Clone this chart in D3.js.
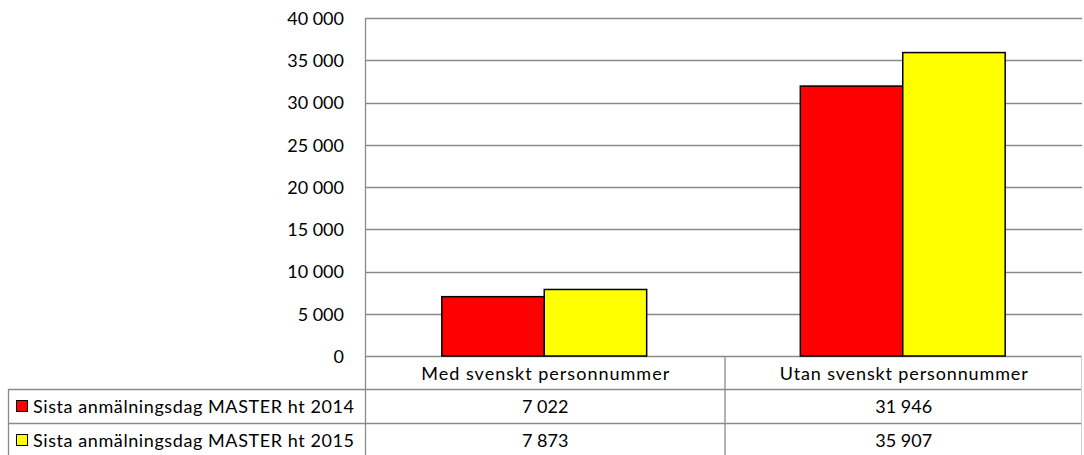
<!DOCTYPE html>
<html><head><meta charset="utf-8">
<script src="https://cdn.jsdelivr.net/npm/d3@7"></script>
<style>body{margin:0;background:#fff}svg text{font-family:Lato,"Open Sans",sans-serif;fill:#000}</style>
</head><body><svg id="c" width="1084" height="455"></svg>
<script>
const categories = ["Med svenskt personnummer", "Utan svenskt personnummer"];
const seriesNames = ["Sista anmälningsdag MASTER ht 2014", "Sista anmälningsdag MASTER ht 2015"];
const values2014 = [7022, 31946];
const values2015 = [7873, 35907];
const seriesColors = ["#ff0000", "#ffff00"];
const yTicks = [0, 5000, 10000, 15000, 20000, 25000, 30000, 35000, 40000];

const series = [values2014, values2015];
const fmt = v => d3.format(",")(v).replace(/,/g, " ");
const svg = d3.select("#c");
const L = 365, R = 1082, T = 18, B = 356;
const tableLeft = 8, headH = 33, rowH = 34;
const grid = "#8a8a8a";
const FS = "18px";

const x = d3.scaleBand().domain(categories).range([L, R]).paddingInner(0).paddingOuter(0);
const y = d3.scaleLinear().domain([0, 40000]).range([B, T]);
const xs = d3.scaleBand().domain([0, 1]).range([0, x.bandwidth()]).paddingInner(0).paddingOuter(0.75);

// gridlines
svg.append("g").selectAll("line").data(yTicks).join("line")
  .attr("x1", L).attr("x2", R).attr("y1", d => Math.round(y(d)) + 0.5).attr("y2", d => Math.round(y(d)) + 0.5)
  .attr("stroke", grid).attr("stroke-width", 1.3);

// y axis labels
const yAxis = d3.axisLeft(y).tickValues(yTicks).tickFormat(fmt).tickSize(0).tickPadding(21);
const ga = svg.append("g").attr("transform", `translate(${L},0)`).call(yAxis);
ga.select(".domain").remove();
ga.selectAll("text").style("font-size", FS).attr("font-family", null).attr("dy", "0.35em");

// bars
categories.forEach((c, ci) => {
  series.forEach((s, si) => {
    svg.append("rect")
      .attr("x", x(c) + xs(si)).attr("width", xs.bandwidth())
      .attr("y", y(s[ci])).attr("height", B - y(s[ci]))
      .attr("fill", seriesColors[si]).attr("stroke", "#000").attr("stroke-width", 1.5);
  });
});

// table
const rows = [B, B + headH, B + headH + rowH, B + headH + 2 * rowH];
rows.slice(1, 3).forEach(ry => svg.append("line").attr("x1", tableLeft).attr("x2", R).attr("y1", ry + 0.5).attr("y2", ry + 0.5).attr("stroke", grid).attr("stroke-width", 1.3));
// verticals
svg.append("line").attr("x1", L + 0.5).attr("x2", L + 0.5).attr("y1", T).attr("y2", 455).attr("stroke", grid).attr("stroke-width", 1.3);
svg.append("line").attr("x1", tableLeft + 0.5).attr("x2", tableLeft + 0.5).attr("y1", rows[1]).attr("y2", 455).attr("stroke", grid).attr("stroke-width", 1.3);
categories.slice(1).forEach(c => svg.append("line").attr("x1", x(c) + 1.5).attr("x2", x(c) + 1.5).attr("y1", B).attr("y2", 455).attr("stroke", grid).attr("stroke-width", 1.3));
svg.append("line").attr("x1", R - 0.5).attr("x2", R - 0.5).attr("y1", B).attr("y2", 455).attr("stroke", "#d0d0d0").attr("stroke-width", 1);

// header
svg.selectAll(".cat").data(categories).join("text")
  .attr("x", d => x(d) + x.bandwidth() / 2 + 1).attr("y", B + headH / 2 + 1).attr("dy", "0.35em")
  .attr("text-anchor", "middle").style("font-size", FS).attr("textLength", 248).text(d => d);

series.forEach((s, si) => {
  const ry = rows[si + 1];
  svg.append("rect").attr("x", 16.5).attr("y", ry + rowH / 2 - 5.5).attr("width", 11).attr("height", 11)
    .attr("fill", seriesColors[si]).attr("stroke", "#000").attr("stroke-width", 1);
  svg.append("text").attr("x", 33).attr("y", ry + rowH / 2 + 1).attr("dy", "0.35em")
    .style("font-size", FS).attr("textLength", 321).text(seriesNames[si]);
  categories.forEach((c, ci) => {
    svg.append("text").attr("x", x(c) + x.bandwidth() / 2 + 1).attr("y", ry + rowH / 2 + 1).attr("dy", "0.35em")
      .attr("text-anchor", "middle").style("font-size", FS).text(fmt(s[ci]));
  });
});
</script></body></html>
